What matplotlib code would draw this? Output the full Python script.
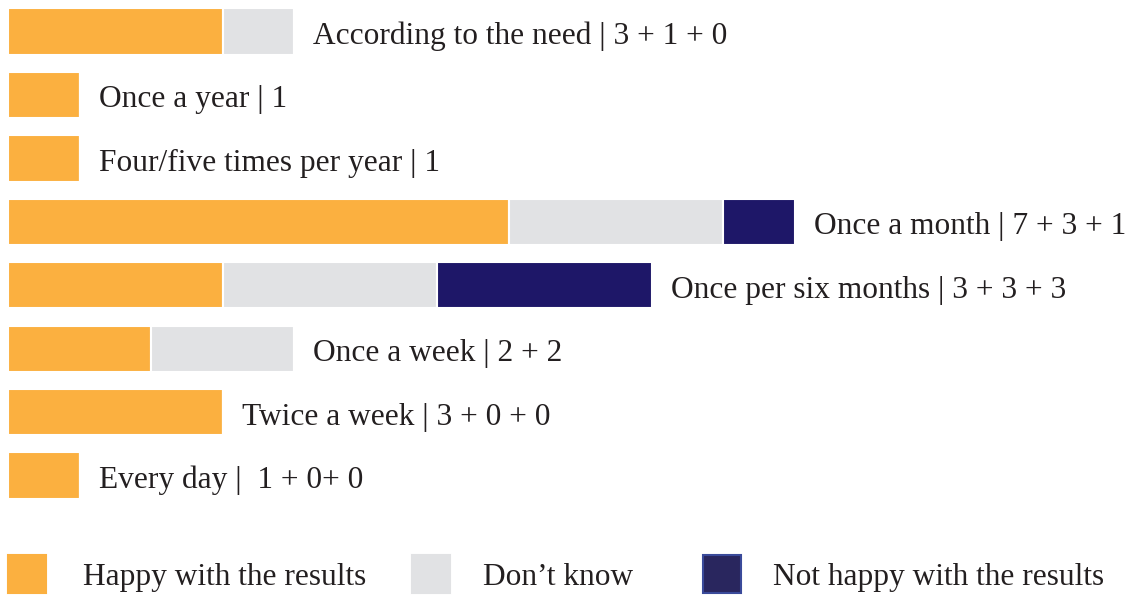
import matplotlib.pyplot as plt
from matplotlib.patches import Rectangle

categorias = ["According to the need", "Once a year", "Four/five times per year",
              "Once a month", "Once per six months", "Once a week",
              "Twice a week", "Every day"]
rotulos = ["According to the need | 3 + 1 + 0", "Once a year | 1",
           "Four/five times per year | 1", "Once a month | 7 + 3 + 1",
           "Once per six months | 3 + 3 + 3", "Once a week | 2 + 2",
           "Twice a week | 3 + 0 + 0", "Every day |  1 + 0+ 0"]
felizes = [3, 1, 1, 7, 3, 2, 3, 1]
nao_sei = [1, 0, 0, 3, 3, 2, 0, 0]
infelizes = [0, 0, 0, 1, 3, 0, 0, 0]
series = ["Happy with the results", "Don\u2019t know", "Not happy with the results"]

cores = ["#FBB040", "#E1E2E4", "#1E1768"]
fonte = "Liberation Serif"
cor_texto = "#231F20"

W, H = 1128, 596
fig = plt.figure(figsize=(W / 100, H / 100), dpi=100)
# area das barras: 1 unidade ~ 71.5 px, linhas a cada ~63.4 px
ax = fig.add_axes([8 / W, (H - 520) / H, 1120 / W, 520 / H])
ax.set_xlim(0, 1120 / 71.5)
ax.set_ylim(7.70, -0.497)

y = list(range(len(categorias)))
esq = [0] * len(y)
for valores, cor in zip([felizes, nao_sei, infelizes], cores):
    ax.barh(y, valores, left=esq, height=0.73, color=cor, edgecolor="white", linewidth=1.5)
    esq = [a + b for a, b in zip(esq, valores)]

for i, texto in enumerate(rotulos):
    ax.annotate(texto, (esq[i], y[i]), xytext=(14, -1), textcoords="offset points",
                va="center_baseline", ha="left", fontsize=22.6, family=fonte, color=cor_texto)

ax.axis("off")

# legenda desenhada à mão (quadrados + texto)
x_quad = [8, 412, 703]
x_txt = [83, 483, 773]
cores_leg = [cores[0], cores[1], "#29265E"]
bordas = [cores[0], cores[1], "#3A4A9A"]
for xq, xt, c, b, nome in zip(x_quad, x_txt, cores_leg, bordas, series):
    fig.add_artist(Rectangle((xq / W, (H - 593) / H), 38 / W, 38 / H,
                             transform=fig.transFigure, facecolor=c, edgecolor=b,
                             linewidth=1.5))
    fig.text(xt / W, (H - 574) / H, nome, family=fonte, fontsize=22.6,
             color=cor_texto, va="center_baseline", ha="left")

fig.savefig("out.png", dpi=100)
